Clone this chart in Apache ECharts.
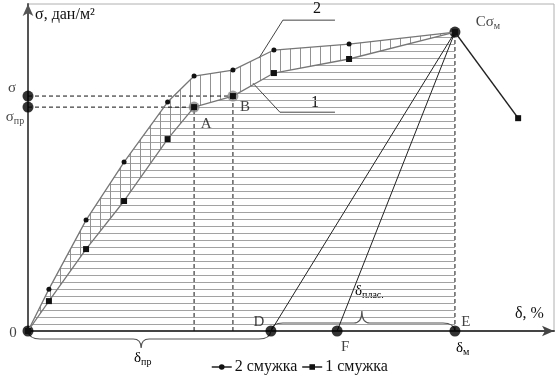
<!DOCTYPE html>
<html><head><meta charset="utf-8">
<script src="https://cdn.jsdelivr.net/npm/echarts@6/dist/echarts.min.js"></script>
<style>html,body{margin:0;padding:0;background:#fff}#c{width:558px;height:375px}</style>
</head><body><div id="c"></div>
<script>
// ---- data (δ, % on x; σ on y; C = 100 / 100) ----
const strainX = [0, 4.9, 13.6, 22.5, 32.7, 38.9, 48.0, 57.6, 75.2, 100];
const strip2  = [0, 14.0, 37.1, 56.5, 76.6, 85.3, 87.3, 94.0, 96.0, 100];
const strip1  = [0, 10.0, 27.4, 43.5, 64.2, 74.9, 78.6, 86.3, 91.0, 100];
const tailX = [100, 114.8];
const tailY = [100, 71.2];
const keyNames = ['0', 'σ', 'σпр', 'A', 'B', 'C', 'D', 'F', 'E'];
const keyX = [0, 0, 0, 38.9, 48.0, 100, 56.9, 72.4, 100];
const keyY = [0, 78.6, 74.9, 74.9, 78.6, 100, 0, 0, 0];
const unloadFromX = [56.9, 72.4];          // D, F -> C
const leader2X = [71.9, 59.7, 54.1], leader2Y = [104.0, 104.0, 91.3];
const leader1X = [52.7, 59.0, 71.9], leader1Y = [82.9, 73.2, 73.2];
const braceFrom = [0, 56.9], braceTo = [56.9, 100], braceMid = [26.5, 78.2];

const FONT = "'Liberation Serif','Times New Roman',serif";
const byIdx = (xs, ys) => xs.map((x, i) => [x, ys[i]]);
const kp = n => { const i = keyNames.indexOf(n); return [keyX[i], keyY[i]]; };

function makePattern(w, h, draw) {
  const c = document.createElement('canvas'); c.width = w; c.height = h;
  draw(c.getContext('2d')); return { image: c, repeat: 'repeat' };
}
const hPat = makePattern(4, 7, g => { g.fillStyle = '#a2a2a2'; g.fillRect(0, 2, 4, 1); });
const vPat = makePattern(10, 4, g => { g.fillStyle = '#929292'; g.fillRect(0, 0, 1, 4); });

// region under the curves (horizontal hatch)
const hatchTop = strainX.map((x, i) => [x, i <= 4 ? strip2[i] : strip1[i]]);
const hatchPoly = hatchTop.concat([[strainX[strainX.length - 1], 0]]);
const bandPoly = byIdx(strainX, strip2).concat(byIdx(strainX, strip1).reverse());

function polySeries(poly, fill, z) {
  return { type: 'custom', coordinateSystem: 'cartesian2d', silent: true, z, data: [[0, 0]],
    renderItem: (p, api) => ({ type: 'polygon', shape: { points: poly.map(pt => api.coord(pt)) },
      style: { fill, stroke: null } }) };
}
function seg(points, color, width, type, z) {
  return { type: 'line', data: points, symbol: 'none', silent: true, z,
    lineStyle: { color, width, type }, animation: false };
}

const keyLabel = {
  '0': { t: '0', o: [-15, 2] },
  'σ': { t: 'σ', o: [-16, -8] },
  'σпр': { t: '{a|σ}{s|пр}', o: [-13, 10] },
  'A': { t: 'A', o: [12, 17] },
  'B': { t: 'B', o: [12, 11] },
  'C': { t: '{a|Cσ}{s|м}', o: [33, -10] },
  'D': { t: 'D', o: [-12, -9] },
  'F': { t: 'F', o: [8, 16] },
  'E': { t: 'E', o: [11, -9] }
};
const rich = { a: { fontSize: 15, fontFamily: FONT, color: '#111' },
               s: { fontSize: 10, fontFamily: FONT, color: '#111', padding: [8, 0, 0, 0] } };

const keyData = keyNames.map((n, i) => ({
  value: [keyX[i], keyY[i]],
  symbolSize: 11,
  itemStyle: { color: (n === 'A' || n === 'B') ? '#8a8a8a' : '#000' },
  label: { show: true, position: 'inside', offset: keyLabel[n].o, formatter: keyLabel[n].t,
    fontSize: 15, fontFamily: FONT, color: '#111', rich }
}));

const braceTip = [9, 12], braceDir = [1, -1];

const option = {
  animation: false,
  backgroundColor: '#fff',
  grid: { left: 28, right: 4, top: 4, bottom: 44, show: true, borderColor: '#b0b0b0', borderWidth: 1 },
  xAxis: { type: 'value', min: 0, max: 123.2, axisLabel: { show: false }, axisTick: { show: false },
    splitLine: { show: false },
    axisLine: { onZero: false, lineStyle: { color: '#444', width: 2 }, symbol: ['none', 'arrow'], symbolSize: [8, 12] } },
  yAxis: { type: 'value', min: 0, max: 109.4, axisLabel: { show: false }, axisTick: { show: false },
    splitLine: { show: false },
    axisLine: { onZero: false, lineStyle: { color: '#555', width: 2 }, symbol: ['none', 'arrow'], symbolSize: [8, 12] } },
  legend: { data: ['2 смужка', '1 смужка'], left: 206, top: 354, itemGap: 4, itemWidth: 20, itemHeight: 7,
    textStyle: { fontSize: 16, fontFamily: FONT, color: '#111', padding: [0, 0, 0, -2] },
    lineStyle: { color: '#222', width: 1.5 }, selectedMode: false },
  graphic: [
    { type: 'text', left: 35, top: 7, style: { text: 'σ, дан/м²', font: `16px ${FONT}`, fill: '#111' } },
    { type: 'text', left: 515, top: 306, style: { text: 'δ, %', font: `16px ${FONT}`, fill: '#111' } },
    { type: 'text', left: 313, top: 1, style: { text: '2', font: `16px ${FONT}`, fill: '#111' } },
    { type: 'text', left: 311, top: 95, style: { text: '1', font: `16px ${FONT}`, fill: '#111' } },
    { type: 'text', left: 134, top: 351, style: { text: '{a|δ}{s|пр}', rich } },
    { type: 'text', left: 456, top: 341, style: { text: '{a|δ}{s|м}', rich } },
    { type: 'text', left: 355, top: 284, style: { text: '{a|δ}{s|плас.}', rich } }
  ],
  series: [
    polySeries(hatchPoly, hPat, 0),
    polySeries(bandPoly, vPat, 0),
    seg([[unloadFromX[0], 0], kp('C')], '#222', 1, 'solid', 1),
    seg([[unloadFromX[1], 0], kp('C')], '#222', 1, 'solid', 1),
    seg([[0, kp('B')[1]], kp('B')], '#111', 1, [4, 3], 1),
    seg([[0, kp('A')[1]], kp('A')], '#111', 1, [4, 3], 1),
    seg([[kp('A')[0], 0], kp('A')], '#111', 1, [4, 3], 1),
    seg([[kp('B')[0], 0], kp('B')], '#111', 1, [4, 3], 1),
    seg([[kp('C')[0], 0], kp('C')], '#111', 1, [4, 3], 1),
    seg(byIdx(leader2X, leader2Y), '#444', 1, 'solid', 1),
    seg(byIdx(leader1X, leader1Y), '#444', 1, 'solid', 1),
    { type: 'custom', coordinateSystem: 'cartesian2d', silent: true, z: 1, data: braceFrom.map((v, i) => [v, 0]),
      renderItem: (p, api) => {
        const i = p.dataIndex;
        const a = api.coord([braceFrom[i], 0]), b = api.coord([braceTo[i], 0]), m = api.coord([braceMid[i], 0]);
        const d = braceDir[i], h = 8, t = braceTip[i];
        const y = a[1], y1 = y + d * h, y2 = y1 + d * t;
        const path = `M${a[0]},${y} Q${a[0] + 1},${y1} ${a[0] + h * 1.5},${y1} L${m[0] - h},${y1} Q${m[0]},${y1} ${m[0]},${y2} ` +
          `Q${m[0]},${y1} ${m[0] + h},${y1} L${b[0] - h * 1.5},${y1} Q${b[0] - 1},${y1} ${b[0]},${y}`;
        return { type: 'path', shape: { pathData: path }, style: { fill: null, stroke: '#555', lineWidth: 1.2 } };
      } },
    { name: '2 смужка', type: 'line', z: 3, data: byIdx(strainX, strip2), symbol: 'circle', symbolSize: 5,
      lineStyle: { color: '#777', width: 1.3 }, itemStyle: { color: '#111' } },
    { name: '1 смужка', type: 'line', z: 3, data: byIdx(strainX, strip1), symbol: 'rect', symbolSize: 6,
      lineStyle: { color: '#777', width: 1.3 }, itemStyle: { color: '#111' } },
    { type: 'line', z: 3, data: [{ value: [tailX[0], tailY[0]], symbol: 'none' }, { value: [tailX[1], tailY[1]], symbol: 'rect' }],
      symbolSize: 6, lineStyle: { color: '#222', width: 1.5 }, itemStyle: { color: '#111' } },
    { type: 'scatter', z: 2, symbol: 'circle', data: keyData }
  ]
};
const chart = echarts.init(document.getElementById('c'));
chart.setOption(option);
</script></body></html>
